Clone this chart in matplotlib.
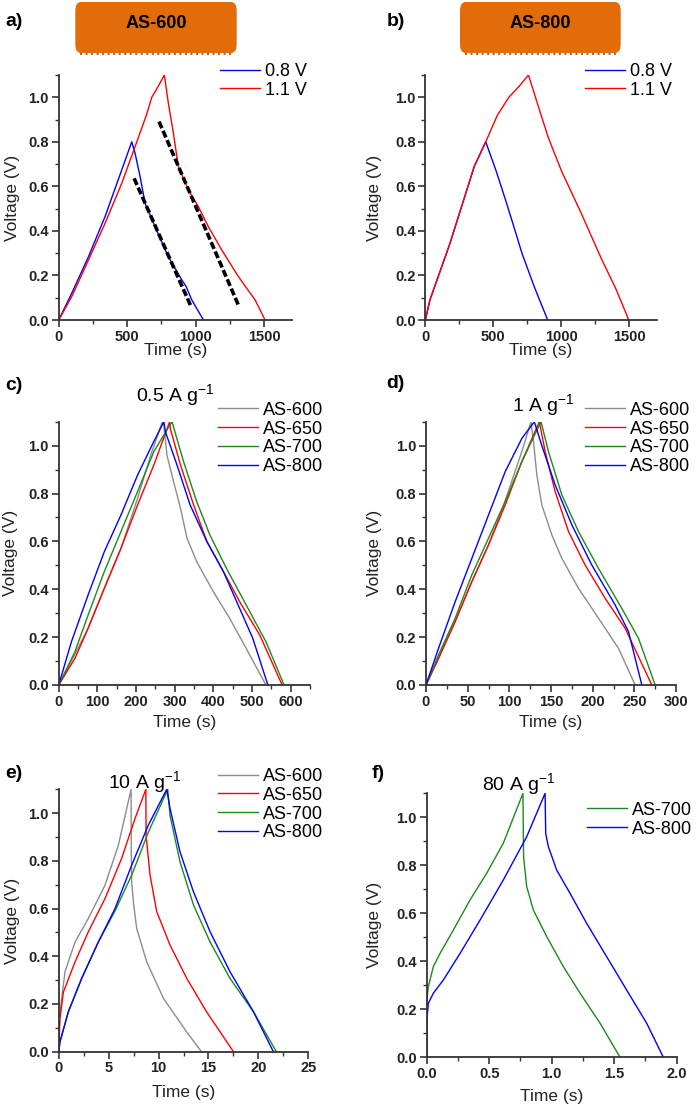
import matplotlib
matplotlib.use("Agg")
import matplotlib.pyplot as plt
from matplotlib.patches import FancyBboxPatch
from matplotlib.lines import Line2D
from matplotlib.ticker import MultipleLocator, FormatStrFormatter

plt.rcParams['font.family'] = ['Liberation Sans', 'DejaVu Sans']
plt.rcParams['mathtext.default'] = 'regular'

W, H = 697, 1105

# ---- panel a: AS-600 at two voltage windows ----
t_a_08 = [0, 95, 217, 338, 460, 533, 557, 594, 630, 703, 800, 898, 930, 971, 1056]
v_a_08 = [0, 0.12, 0.284, 0.464, 0.674, 0.80, 0.749, 0.644, 0.524, 0.419, 0.284, 0.18, 0.15, 0.09, 0]
t_a_11 = [0, 95, 217, 338, 460, 557, 640, 679, 727, 771, 800, 837, 873, 946, 1019, 1092, 1190, 1311, 1433, 1506]
v_a_11 = [0, 0.105, 0.269, 0.434, 0.614, 0.778, 0.92, 1.0, 1.05, 1.10, 0.973, 0.838, 0.689, 0.584, 0.509, 0.419, 0.314, 0.195, 0.09, 0]
fit1_t = [550, 966]
fit1_v = [0.636, 0.06]
fit2_t = [732, 1311]
fit2_v = [0.891, 0.067]

# ---- panel b: AS-800 at two voltage windows ----
t_b_08 = [0, 34, 179, 360, 444, 520, 589, 650, 710, 800, 899]
v_b_08 = [0, 0.09, 0.34, 0.69, 0.80, 0.67, 0.54, 0.42, 0.30, 0.15, 0]
t_b_11 = [0, 34, 179, 360, 444, 530, 614, 690, 758, 830, 903, 1000, 1145, 1290, 1400, 1495]
v_b_11 = [0, 0.09, 0.34, 0.69, 0.80, 0.92, 1.0, 1.05, 1.10, 0.96, 0.82, 0.67, 0.48, 0.28, 0.14, 0]

# ---- panel c: 0.5 A/g ----
t_c_600 = [0, 33, 76, 118, 161, 204, 238, 268, 272, 280, 297, 315, 332, 357, 400, 442, 485, 536]
v_c_600 = [0, 0.10, 0.237, 0.404, 0.571, 0.78, 0.96, 1.1, 1.086, 0.96, 0.85, 0.738, 0.613, 0.515, 0.39, 0.279, 0.153, 0]
t_c_650 = [0, 42, 76, 118, 161, 204, 246, 287, 289, 315, 349, 383, 426, 468, 520, 578]
v_c_650 = [0, 0.111, 0.237, 0.404, 0.571, 0.752, 0.919, 1.1, 1.07, 0.919, 0.752, 0.6, 0.474, 0.348, 0.209, 0]
t_c_700 = [0, 42, 76, 118, 161, 204, 246, 293, 323, 357, 391, 434, 485, 536, 583]
v_c_700 = [0, 0.139, 0.292, 0.474, 0.641, 0.808, 0.975, 1.1, 0.933, 0.766, 0.627, 0.487, 0.334, 0.181, 0]
t_c_800 = [0, 33, 76, 118, 161, 204, 246, 272, 276, 306, 340, 383, 426, 468, 502, 541]
v_c_800 = [0, 0.181, 0.376, 0.557, 0.71, 0.877, 1.017, 1.1, 1.058, 0.919, 0.752, 0.6, 0.474, 0.32, 0.195, 0]

# ---- panel d: 1 A/g ----
t_d_600 = [0, 15, 35, 55, 75, 95, 115, 126, 129, 133, 139, 151, 163, 183, 207, 231, 251]
v_d_600 = [0, 0.111, 0.265, 0.432, 0.585, 0.77, 0.975, 1.1, 1.017, 0.877, 0.752, 0.627, 0.529, 0.404, 0.279, 0.153, 0]
t_d_650 = [0, 15, 35, 55, 75, 95, 115, 136, 143, 155, 171, 191, 215, 239, 271]
v_d_650 = [0, 0.111, 0.265, 0.432, 0.585, 0.752, 0.933, 1.1, 0.975, 0.808, 0.641, 0.501, 0.362, 0.237, 0]
t_d_700 = [0, 15, 35, 55, 75, 95, 115, 138, 147, 163, 183, 207, 235, 255, 275]
v_d_700 = [0, 0.125, 0.279, 0.46, 0.613, 0.766, 0.933, 1.1, 0.975, 0.794, 0.641, 0.487, 0.32, 0.195, 0]
t_d_800 = [0, 15, 35, 55, 75, 95, 115, 130, 139, 155, 175, 199, 227, 243, 259]
v_d_800 = [0, 0.153, 0.348, 0.529, 0.71, 0.891, 1.03, 1.1, 1.0, 0.836, 0.669, 0.501, 0.334, 0.223, 0]

# ---- panel e: 10 A/g ----
t_e_600 = [0, 0.05, 0.3, 0.63, 1.64, 2.97, 4.64, 5.98, 7.25, 7.27, 7.31, 7.5, 7.81, 8.81, 10.5, 12.8, 14.3]
v_e_600 = [0, 0.14, 0.223, 0.335, 0.46, 0.559, 0.698, 0.866, 1.1, 0.85, 0.712, 0.62, 0.517, 0.377, 0.223, 0.084, 0]
t_e_650 = [0, 0.13, 0.47, 1.64, 2.97, 4.64, 6.3, 7.65, 8.73, 8.75, 9.15, 9.82, 11.15, 12.83, 14.8, 17.5]
v_e_650 = [0, 0.14, 0.25, 0.377, 0.503, 0.642, 0.81, 0.978, 1.1, 0.908, 0.74, 0.587, 0.447, 0.307, 0.168, 0]
t_e_700 = [0, 0.13, 0.97, 2.3, 3.97, 5.64, 7.31, 8.98, 10.92, 11.15, 12.15, 13.5, 15.16, 17.16, 19.5, 21.8]
v_e_700 = [0, 0.042, 0.168, 0.307, 0.46, 0.59, 0.74, 0.92, 1.1, 0.99, 0.796, 0.615, 0.46, 0.307, 0.168, 0]
t_e_800 = [0, 0.13, 0.97, 2.3, 3.97, 5.64, 7.31, 8.98, 10.82, 11.15, 12.15, 13.5, 15.16, 17.16, 19.5, 21.5]
v_e_800 = [0, 0.042, 0.168, 0.307, 0.46, 0.6, 0.782, 0.95, 1.1, 1.02, 0.838, 0.67, 0.503, 0.335, 0.168, 0]

# ---- panel f: 80 A/g ----
t_f_700 = [0, 0.002, 0.013, 0.053, 0.107, 0.213, 0.347, 0.48, 0.613, 0.77, 0.775, 0.8, 0.853, 0.96, 1.093, 1.227, 1.387, 1.547]
v_f_700 = [0, 0.24, 0.294, 0.378, 0.433, 0.53, 0.656, 0.767, 0.892, 1.1, 0.836, 0.711, 0.614, 0.503, 0.378, 0.267, 0.142, 0]
t_f_800 = [0, 0.002, 0.013, 0.053, 0.133, 0.267, 0.427, 0.613, 0.8, 0.947, 0.952, 0.973, 1.04, 1.147, 1.28, 1.44, 1.6, 1.76, 1.893]
v_f_800 = [0, 0.156, 0.225, 0.267, 0.322, 0.433, 0.572, 0.739, 0.919, 1.1, 0.933, 0.878, 0.78, 0.683, 0.558, 0.419, 0.28, 0.142, 0]

GRAY, RED, GREEN, BLUE = '#8c8c8c', '#ff0000', '#1a8a1a', '#0000ff'
TXT = '#222222'


def rect(x0, x1, y0, y1):
    # pixel box (left, right, top, bottom) -> figure fraction rect
    return [x0 / W, 1 - y1 / H, (x1 - x0) / W, (y1 - y0) / H]


def px(x, y):
    return (x / W, 1 - y / H)


def style(ax, xmax, xmaj, xmin, xfmt=None):
    ax.set_xlim(0, xmax)
    ax.set_ylim(0, 1.1)
    for s in ['top', 'right']:
        ax.spines[s].set_visible(False)
    for s in ['left', 'bottom']:
        ax.spines[s].set_linewidth(1.3)
        ax.spines[s].set_color('#333333')
    ax.xaxis.set_major_locator(MultipleLocator(xmaj))
    ax.xaxis.set_minor_locator(MultipleLocator(xmin))
    ax.yaxis.set_major_locator(MultipleLocator(0.2))
    ax.yaxis.set_minor_locator(MultipleLocator(0.1))
    ax.yaxis.set_major_formatter(FormatStrFormatter('%.1f'))
    if xfmt:
        ax.xaxis.set_major_formatter(FormatStrFormatter(xfmt))
    ax.tick_params(which='major', direction='out', length=5, width=1.2, color='#333333',
                   labelsize=10.5, labelcolor=TXT, pad=2)
    ax.tick_params(which='minor', direction='out', length=3, width=1.0, color='#333333')
    for lab in ax.get_xticklabels() + ax.get_yticklabels():
        lab.set_fontweight('bold')
    ax.set_xlabel('Time (s)', fontsize=12.5, color=TXT)
    ax.set_ylabel('Voltage (V)', fontsize=12.5, color=TXT)


def legend(ax, x, y_first):
    ax.legend(loc='upper left', bbox_to_anchor=px(x, y_first - 10), bbox_transform=fig.transFigure,
              frameon=False, borderpad=0, borderaxespad=0, handlelength=2.2, handletextpad=0.3,
              labelspacing=0.1, fontsize=13)


def place_labels(ax, box, xlab_y, ylab_x):
    x0, x1, y0, y1 = box
    ax.xaxis.set_label_coords(0.5, (y1 - xlab_y) / (y1 - y0))
    ax.xaxis.label.set_va('center')
    ax.yaxis.set_label_coords(-(x0 - ylab_x) / (x1 - x0), 0.5)
    ax.yaxis.label.set_va('center')


fig = plt.figure(figsize=(W / 100, H / 100), dpi=100)

box_a = (58.7, 291.7, 75, 320)
box_b = (425.3, 656.7, 75, 320)
box_c = (58.7, 310, 421.7, 685)
box_d = (426, 676, 421.7, 685)
box_e = (58.7, 308.3, 789.3, 1051.7)
box_f = (426.7, 676.7, 793.3, 1057.3)

# a
ax = fig.add_axes(rect(*box_a))
ax.plot(t_a_08, v_a_08, color=BLUE, lw=1, label='0.8 V')
ax.plot(t_a_11, v_a_11, color=RED, lw=1, label='1.1 V')
ax.plot(fit1_t, fit1_v, color='black', lw=2.6, ls=(0, (2, 0.8)))
ax.plot(fit2_t, fit2_v, color='black', lw=2.6, ls=(0, (2, 0.8)))
style(ax, 1700, 500, 250)
legend(ax, 220, 73)
place_labels(ax, box_a, 350, 12)

# b
ax = fig.add_axes(rect(*box_b))
ax.plot(t_b_08, v_b_08, color=BLUE, lw=1, label='0.8 V')
ax.plot(t_b_11, v_b_11, color=RED, lw=1, label='1.1 V')
style(ax, 1700, 500, 250)
legend(ax, 585, 73)
place_labels(ax, box_b, 350, 375)

# c
ax = fig.add_axes(rect(*box_c))
ax.plot(t_c_600, v_c_600, color=GRAY, lw=1, label='AS-600')
ax.plot(t_c_650, v_c_650, color=RED, lw=1, label='AS-650')
ax.plot(t_c_700, v_c_700, color=GREEN, lw=1, label='AS-700')
ax.plot(t_c_800, v_c_800, color=BLUE, lw=1, label='AS-800')
style(ax, 650, 100, 50)
legend(ax, 218, 411.7)
place_labels(ax, box_c, 723, 10)

# d
ax = fig.add_axes(rect(*box_d))
ax.plot(t_d_600, v_d_600, color=GRAY, lw=1, label='AS-600')
ax.plot(t_d_650, v_d_650, color=RED, lw=1, label='AS-650')
ax.plot(t_d_700, v_d_700, color=GREEN, lw=1, label='AS-700')
ax.plot(t_d_800, v_d_800, color=BLUE, lw=1, label='AS-800')
style(ax, 300, 50, 25)
legend(ax, 585, 411.7)
place_labels(ax, box_d, 723, 375)

# e
ax = fig.add_axes(rect(*box_e))
ax.plot(t_e_600, v_e_600, color=GRAY, lw=1, label='AS-600')
ax.plot(t_e_650, v_e_650, color=RED, lw=1, label='AS-650')
ax.plot(t_e_700, v_e_700, color=GREEN, lw=1, label='AS-700')
ax.plot(t_e_800, v_e_800, color=BLUE, lw=1, label='AS-800')
style(ax, 25, 5, 2.5)
legend(ax, 218, 778)
place_labels(ax, box_e, 1093, 12.7)

# f
ax = fig.add_axes(rect(*box_f))
ax.plot(t_f_700, v_f_700, color=GREEN, lw=1, label='AS-700')
ax.plot(t_f_800, v_f_800, color=BLUE, lw=1, label='AS-800')
style(ax, 2.0, 0.5, 0.25, '%.1f')
legend(ax, 587, 811.7)
place_labels(ax, box_f, 1097, 375)

# panel letters
for lab, x, y in [('a)', 5, 22), ('b)', 386.7, 22), ('c)', 5, 385),
                  ('d)', 386.7, 383), ('e)', 5, 773), ('f)', 371.7, 773)]:
    fig.text(*px(x, y), lab, fontsize=14, fontweight='bold', ha='left', va='center')

# current density titles
for lab, x, y in [('0.5 A g$^{-1}$', 175, 395), ('1 A g$^{-1}$', 543, 405),
                  ('10 A g$^{-1}$', 145, 782), ('80 A g$^{-1}$', 519, 784)]:
    fig.text(*px(x, y), lab, fontsize=14, ha='center', va='center')

# orange sample boxes
for name, x0, x1 in [('AS-600', 75.3, 236.7), ('AS-800', 460, 620.7)]:
    y0, y1 = 2, 53
    patch = FancyBboxPatch(px(x0, y1), (x1 - x0) / W, (y1 - y0) / H,
                           boxstyle='round,pad=0,rounding_size=0.008',
                           transform=fig.transFigure, facecolor='#e36c0a', edgecolor='none')
    fig.add_artist(patch)
    fig.add_artist(Line2D([(x0 + 5) / W, (x1 - 5) / W], [1 - (y1 + 1) / H] * 2,
                          transform=fig.transFigure, color='#777777', lw=1.5, ls=':'))
    fig.text(*px((x0 + x1) / 2, 23), name, fontsize=13, fontweight='bold', ha='center', va='center')

fig.savefig('out.png', dpi=100)
